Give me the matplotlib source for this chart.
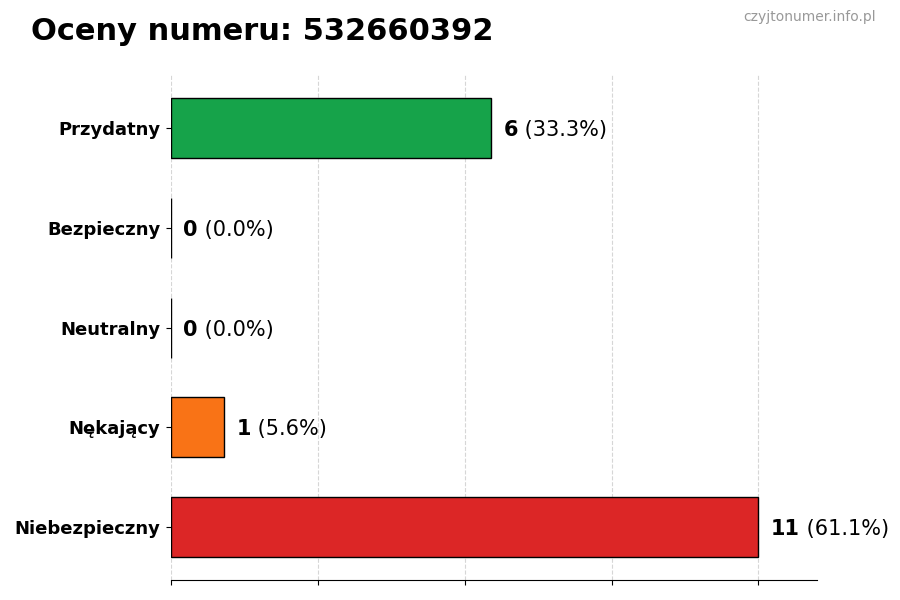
import matplotlib
matplotlib.use("Agg")
import matplotlib.pyplot as plt
import numpy as np

phone = "532660392"
categories = ["Przydatny", "Bezpieczny", "Neutralny", "Nękający", "Niebezpieczny"]
counts = [6, 0, 0, 1, 11]
colors = ["#16a34a", "#2563eb", "#9ca3af", "#f97316", "#dc2626"]

total = sum(counts)
max_val = max(counts)

fig = plt.figure(figsize=(9, 6), dpi=100)
ax = fig.add_axes([0.19, 0.033, 0.718, 0.842])

y = np.arange(len(categories))
ax.barh(y, counts, height=0.6, color=colors, edgecolor="black", linewidth=1, zorder=2)
ax.invert_yaxis()
ax.set_yticks(y)
ax.set_yticklabels(categories, fontsize=13, fontweight="bold")
ax.tick_params(axis="y", pad=4)
ax.set_xlim(0, max_val * 1.1)
ax.set_xticks(np.linspace(0, max_val, 5))
ax.set_xticklabels([])
ax.grid(axis="x", linestyle="--", color="#cccccc", alpha=0.8, zorder=0)

for s in ["top", "right", "left"]:
    ax.spines[s].set_visible(False)

for i, c in enumerate(counts):
    pct = c / total * 100
    t = ax.text(c + max_val * 0.021, i, str(c), fontsize=15, fontweight="bold",
                va="center_baseline", ha="left")
    ax.annotate(" (%.1f%%)" % pct, xy=(1, 0), xycoords=t, va="bottom",
                ha="left", fontsize=15)

fig.text(0.034, 0.948, "Oceny numeru: " + phone, fontsize=22, fontweight="bold",
         ha="left", va="center")
fig.text(0.973, 0.971, "czyjtonumer.info.pl", fontsize=10, color="#999999",
         ha="right", va="center")

fig.savefig("out.png", dpi=100)
